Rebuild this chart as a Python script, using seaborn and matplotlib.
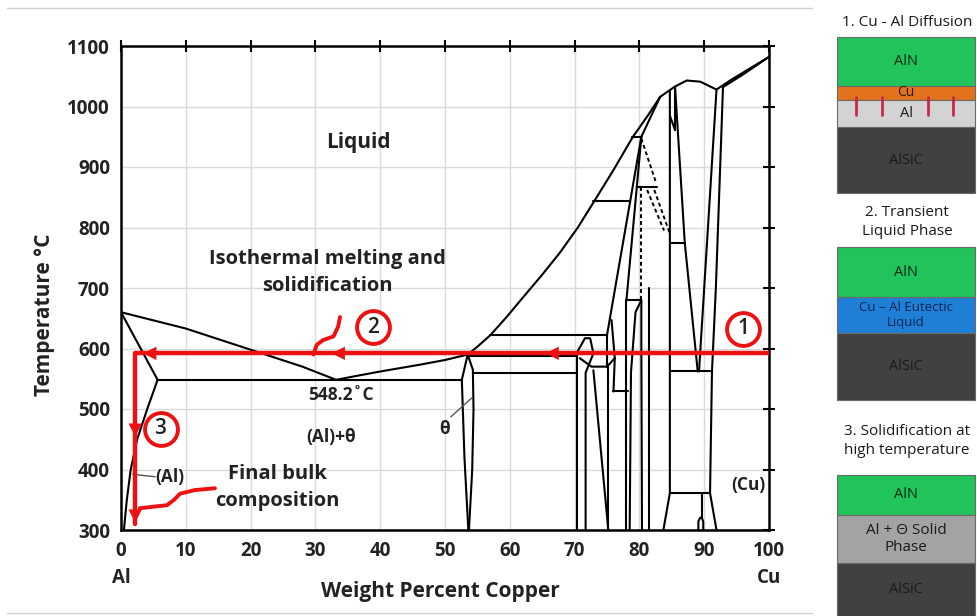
import numpy as np
import pandas as pd
import matplotlib
matplotlib.use("Agg")
import matplotlib.pyplot as plt
import seaborn as sns

# ---------------- data (wt% Cu, temperature °C) ----------------
liq_al_x = [0, 10, 20, 28, 33.2]
liq_al_t = [660, 633, 598, 570, 548.2]
liq_x = [33.2, 36, 40, 46, 50, 53.5, 55, 57, 59.5, 62, 65, 67.7, 70.5, 73, 76, 79, 81.3,
         83.2, 85.5, 87.3, 89.4, 91.9]
liq_t = [548.2, 554, 562, 573, 581, 590, 603, 622, 652, 684, 722, 758, 800, 843, 895, 950, 985,
         1016, 1033, 1043, 1041, 1028]
liq_cu_x = [91.9, 94, 96.6, 100]
liq_cu_t = [1028, 1043, 1060, 1082]
sol_cu_x = [92.9, 96, 100]
sol_cu_t = [1032, 1053, 1082]
solv_cu_x = [92.9, 91.8, 91.2, 90.9, 91.9]
solv_cu_t = [1032, 700, 562, 361, 300]
sol_al_x = [0, 5.65]
sol_al_t = [660, 548.2]
solv_al_x = [5.65, 4.05, 2.5, 1.5, 0.9, 0.45]
solv_al_t = [548.2, 500, 450, 400, 350, 300]
eut_x = [5.65, 52.6]
eut_t = [548.2, 548.2]
theta_l_x = [53.5, 52.6, 53.0, 53.6]
theta_l_t = [590, 548.2, 420, 300]
theta_r_x = [53.5, 54.3, 54.4, 54.2, 53.7]
theta_r_t = [590, 565, 500, 400, 300]
# other solid-state boundaries: (x list, T list)
inter_x = [
    [57.0, 75.0], [53.5, 70.3], [54.4, 70.3],
    [70.3, 70.3], [70.3, 71.6, 72.4, 72.9], [71.7, 71.7, 72.9],
    [70.8, 72.6, 75.0, 76.2], [72.9, 75.2], [75.2, 75.2], [75.0, 75.0],
    [75.7, 76.2, 76.0], [76.0, 78.3], [78.0, 78.0], [78.5, 78.7, 79.4, 80.3],
    [80.4, 80.3, 80.3], [81.5, 81.5], [78.0, 80.3],
    [78.8, 80.3], [83.2, 80.3], [80.3, 75.0], [72.9, 78.5],
    [80.3, 79.6], [79.6, 82.7], [79.6, 78.0],
    [84.7, 84.7, 83.7], [84.7, 87.0], [85.5, 85.5], [84.7, 85.5],
    [85.5, 87.0, 89.0], [91.9, 89.2], [84.7, 91.2], [84.7, 90.9],
    [89.6, 89.6], [89.1, 89.1, 89.35, 89.6, 89.85, 89.85],
]
inter_t = [
    [622, 622], [588, 588], [560, 560],
    [300, 592], [592, 617, 617, 592], [300, 560, 592],
    [584, 570, 570, 584], [564, 300], [570, 300], [622, 570],
    [647, 584, 529], [529, 529], [680, 300], [300, 560, 660, 680],
    [300, 600, 680], [300, 700], [680, 680],
    [950, 950], [1016, 950], [950, 622], [843, 843],
    [950, 867], [867, 867], [867, 680],
    [1027, 361, 300], [775, 775], [1033, 961], [985, 961],
    [1033, 775, 562], [1028, 562], [562, 562], [361, 361],
    [361, 320], [300, 314, 320, 321, 314, 300],
]
dash_x = [[80.3, 80.3], [80.3, 82.6], [81.2, 83.8], [82.3, 84.7]]
dash_t = [[867, 680], [947, 873], [862, 795], [862, 790]]

# red process path
path_h_x = [100, 2.2]
path_t = 592
path_v_t = [592, 310]
brace2_x = [33.8, 33.5, 32.8, 31.2, 30.2, 29.7]
brace2_t = [652, 636, 620, 614, 606, 590]
brace3_x = [14.5, 11.4, 9.1, 8.2, 7.1, 2.9]
brace3_t = [369, 366, 360, 350, 341, 336]
step_x = [96.0, 38.9, 6.1]
step_t = [633, 635, 467]
step_lbl = ["1", "2", "3"]

x_ticks = list(range(0, 101, 10))
y_ticks = list(range(300, 1101, 100))

# ---------------- figure ----------------
sns.set_theme(style="white")
plt.rcParams["font.family"] = ["Open Sans", "DejaVu Sans"]
W, H = 977, 616
fig = plt.figure(figsize=(W / 100, H / 100), dpi=100)
ax = fig.add_axes([121 / W, 1 - 530 / H, 648 / W, 484 / H])

def build(xs, ts):
    rows = []
    for i, (xx, tt) in enumerate(zip(xs, ts)):
        for j, (a, b) in enumerate(zip(xx, tt)):
            rows.append({"seg": i, "ord": j, "wt": a, "T": b})
    return pd.DataFrame(rows)

solid_sets = [(liq_al_x, liq_al_t), (liq_x, liq_t), (liq_cu_x, liq_cu_t), (sol_cu_x, sol_cu_t),
              (solv_cu_x, solv_cu_t), (sol_al_x, sol_al_t), (solv_al_x, solv_al_t), (eut_x, eut_t),
              (theta_l_x, theta_l_t), (theta_r_x, theta_r_t)]
sx = [s[0] for s in solid_sets] + inter_x
st = [s[1] for s in solid_sets] + inter_t
df_solid = build(sx, st)
df_dash = build(dash_x, dash_t)

sns.lineplot(data=df_solid, x="wt", y="T", units="seg", estimator=None, sort=False,
             color="black", lw=1.5, ax=ax, zorder=3)
sns.lineplot(data=df_dash, x="wt", y="T", units="seg", estimator=None, sort=False,
             color="black", lw=1.4, ax=ax, zorder=3, linestyle=(0, (2, 1.5)))

ax.set_xlim(0, 100)
ax.set_ylim(300, 1100)
ax.set_xticks(x_ticks)
ax.set_yticks(y_ticks)
ax.grid(True, color="#dadada", lw=1)
ax.set_axisbelow(True)
for s in ax.spines.values():
    s.set_linewidth(1.8)
    s.set_color("black")
ax.tick_params(direction="inout", length=8, width=1.5, top=True, right=True,
               labelsize=13.5, pad=4, colors="black")
for lab in ax.get_xticklabels() + ax.get_yticklabels():
    lab.set_fontweight("bold")
    lab.set_color("#222222")
ax.set_xlabel("")
ax.set_ylabel("")

# red process path
red = "#ee1111"
ax.plot(path_h_x, [path_t, path_t], color=red, lw=3.2, zorder=5, solid_capstyle="butt")
ax.plot([path_h_x[1], path_h_x[1]], path_v_t, color=red, lw=3.2, zorder=5)
arr = dict(arrowstyle="-|>", color=red, lw=0, mutation_scale=24, shrinkA=0, shrinkB=0)
for tip in [3.4, 32.5, 65.5]:
    ax.annotate("", xy=(tip, path_t), xytext=(tip + 3, path_t), arrowprops=arr, zorder=6)
for tip in [454, 312]:
    ax.annotate("", xy=(path_h_x[1], tip), xytext=(path_h_x[1], tip + 30), arrowprops=arr, zorder=6)
ax.plot(brace2_x, brace2_t, color=red, lw=2.8, zorder=5)
ax.plot(brace3_x, brace3_t, color=red, lw=2.8, zorder=5)
ax.scatter(step_x, step_t, s=560, facecolor="white", edgecolor=red, lw=2.8, zorder=7)
for xx, tt, lb in zip(step_x, step_t, step_lbl):
    ax.text(xx, tt, lb, ha="center", va="center", fontsize=15, color="#222222",
            fontweight="semibold", zorder=8)

# labels on the diagram
bold = dict(fontweight="bold", color="#222222")
ax.text(36.6, 940, "Liquid", ha="center", va="center", fontsize=15, **bold)
ax.text(31.8, 726, "Isothermal melting and\nsolidification", ha="center", va="center",
        fontsize=14.5, linespacing=1.45, **bold)
ax.text(34.0, 523, "548.2˚C", ha="center", va="center", fontsize=12.5, **bold)
ax.text(32.4, 454, "(Al)+θ", ha="center", va="center", fontsize=12.5, **bold)
ax.text(50.0, 467, "θ", ha="center", va="center", fontsize=12.5, **bold)
ax.plot([50.9, 54.1], [487, 518], color="#555555", lw=1, zorder=4)
ax.text(7.6, 388, "(Al)", ha="center", va="center", fontsize=12.5, **bold)
ax.plot([5.3, 1.8], [388, 392], color="#555555", lw=1, zorder=4)
ax.text(24.2, 370, "Final bulk\ncomposition", ha="center", va="center", fontsize=14.5,
        linespacing=1.5, **bold)
ax.text(96.8, 375, "(Cu)", ha="center", va="center", fontsize=12.5, **bold)

fig.text(121 / W, 1 - 578 / H, "Al", ha="center", va="center", fontsize=13.5, **bold)
fig.text(769 / W, 1 - 578 / H, "Cu", ha="center", va="center", fontsize=13.5, **bold)
fig.text(440 / W, 1 - 591 / H, "Weight Percent Copper", ha="center", va="center", fontsize=15, **bold)
fig.text(45 / W, 1 - 315 / H, "Temperature °C", ha="center", va="center", rotation=90,
         fontsize=15, **bold)

# ---------------- side panels (pixel overlay) ----------------
ov = fig.add_axes([0, 0, 1, 1], zorder=-1)
ov.set_xlim(0, W)
ov.set_ylim(H, 0)
ov.axis("off")
ov.plot([7, 812], [8, 8], color="#cfcfcf", lw=1)
ov.plot([7, 812], [613, 613], color="#cfcfcf", lw=1)

fg = fig.add_axes([0, 0, 1, 1], zorder=5)
fg.set_xlim(0, W)
fg.set_ylim(H, 0)
fg.axis("off")
fg.patch.set_alpha(0)

panel_titles = ["1. Cu - Al Diffusion", "2. Transient\nLiquid Phase", "3. Solidification at\nhigh temperature"]
panel_title_y = [22, 222, 441]
layer_names = [["AlN", "Cu", "Al", "AlSiC"],
               ["AlN", "Cu – Al Eutectic\nLiquid", "AlSiC"],
               ["AlN", "Al + Θ Solid\nPhase", "AlSiC"]]
layer_top = [[37, 86, 100, 127], [247, 297, 333], [475, 515, 563]]
layer_bot = [[86, 100, 127, 193], [297, 333, 400], [515, 563, 616]]
layer_col = [["#21c35b", "#e2721c", "#d3d3d3", "#414141"],
             ["#21c35b", "#1f7fd6", "#414141"],
             ["#21c35b", "#a3a3a3", "#414141"]]
layer_txt = [["#0d2814", "#2a1a08", "#1a1a1a", "#1a1a1a"],
             ["#0d2814", "#0c2550", "#1a1a1a"],
             ["#0d2814", "#1a1a1a", "#1a1a1a"]]
layer_fs = [[10.5, 10, 10.5, 10.5], [10.5, 9.5, 10.5], [10.5, 11, 10.5]]
x0, x1 = 837, 975
for p in range(3):
    fg.text(907, panel_title_y[p], panel_titles[p], ha="center", va="center", fontsize=11,
            color="#1a1a1a", linespacing=1.3)
    for nm, t0, t1, c, tc, fs in zip(layer_names[p], layer_top[p], layer_bot[p], layer_col[p],
                                     layer_txt[p], layer_fs[p]):
        fg.add_patch(plt.Rectangle((x0, t0), x1 - x0, t1 - t0, facecolor=c, edgecolor="#6a6a6a", lw=0.8))
        fg.text((x0 + x1) / 2, (t0 + t1) / 2, nm, ha="center", va="center", fontsize=fs, color=tc,
                linespacing=1.25)
for mx in [856, 882, 928, 953]:
    fg.plot([mx, mx], [97, 115], color="#c8284a", lw=2)

fig.savefig("out.png", dpi=100)
